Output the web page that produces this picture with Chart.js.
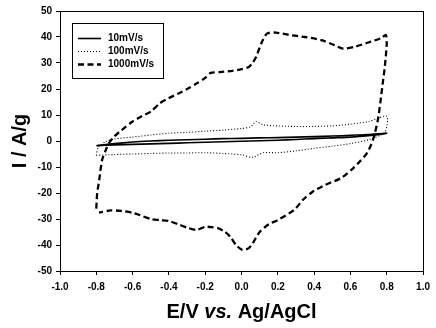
<!DOCTYPE html>
<html>
<head>
<meta charset="utf-8">
<script src="https://cdn.jsdelivr.net/npm/chart.js@4.4.1/dist/chart.umd.min.js"></script>
<style>
  html, body { margin: 0; padding: 0; background: #fff; }
  #wrap { width: 436px; height: 328px; position: relative; }
</style>
</head>
<body>
<div id="wrap"><canvas id="c" width="436" height="328"></canvas></div>
<script>
// ---- Data ----
const seriesLabels = ['10mV/s', '100mV/s', '1000mV/s'];

// 10 mV/s : potential (V) and current (A/g), full cycle
const e10 = [-0.8,-0.7,-0.6,-0.5,-0.4,-0.3,-0.2,-0.1,0.0,0.1,0.2,0.3,0.4,0.5,0.6,0.7,0.8,
             0.75,0.7,0.6,0.5,0.4,0.3,0.2,0.1,0.0,-0.1,-0.2,-0.3,-0.4,-0.5,-0.6,-0.7,-0.8];
const i10 = [-1.8,-1.0,-0.4,0.0,0.3,0.5,0.7,0.9,1.0,1.2,1.3,1.5,1.7,1.9,2.2,2.5,3.0,
             2.4,2.0,1.5,1.2,0.9,0.6,0.3,0.1,-0.1,-0.3,-0.5,-0.7,-0.9,-1.1,-1.3,-1.5,-1.8];

// 100 mV/s
const e100 = [-0.8,-0.79,-0.75,-0.7,-0.6,-0.5,-0.4,-0.3,-0.2,-0.1,0.0,0.05,0.08,0.12,0.2,0.3,0.4,0.5,0.6,0.7,0.8,
              0.79,0.7,0.6,0.5,0.4,0.3,0.2,0.12,0.06,0.0,-0.1,-0.2,-0.3,-0.4,-0.5,-0.6,-0.7,-0.8];
const i100 = [-5.5,-2.5,-0.3,0.8,1.5,2.3,3.0,3.3,3.8,4.2,4.8,5.5,7.5,6.2,5.8,5.6,5.6,5.8,6.5,7.5,9.5,
              3.5,0.5,-1.0,-2.0,-2.8,-3.8,-4.5,-4.5,-6.3,-5.3,-4.8,-4.5,-4.6,-4.6,-4.8,-5.0,-5.2,-5.5];

// 1000 mV/s
const e1000 = [-0.8,-0.795,-0.784,-0.768,-0.745,-0.73,-0.7,-0.66,-0.6,-0.55,-0.5,-0.45,-0.4,-0.35,-0.3,-0.25,-0.2,-0.17,-0.12,-0.05,0.0,0.04,0.06,0.08,0.11,0.14,0.19,0.26,0.35,0.44,0.51,0.56,0.62,0.69,0.77,0.795,
               0.8,0.79,0.778,0.765,0.751,0.724,0.692,0.65,0.616,0.55,0.46,0.39,0.34,0.29,0.2,0.15,0.1,0.06,0.04,0.005,-0.03,-0.06,-0.09,-0.13,-0.17,-0.2,-0.25,-0.3,-0.35,-0.4,-0.45,-0.5,-0.56,-0.6,-0.66,-0.72,-0.785];
const i1000 = [-26,-20,-15,-7.3,-3,-0.8,1.8,4.2,7.5,9.5,11.3,14.5,16.5,18.2,20,22,24.3,26.2,26.5,27,27.6,28.5,30,32.3,37.7,41.3,41.7,40.8,40,38.8,36.9,35.5,36.2,37.7,39.6,40.8,
               37.7,29,22.3,15,8.1,0.4,-4.6,-8,-10.4,-14.2,-16.9,-19.6,-22.5,-26.5,-30.4,-32,-35,-39.5,-41.2,-41.9,-40,-37,-35,-33.5,-33.1,-33,-34.2,-33.3,-32,-30.8,-30.4,-30,-28.5,-27.6,-26.9,-26.7,-27.5];

const xTickValues = [-1.0,-0.8,-0.6,-0.4,-0.2,0.0,0.2,0.4,0.6,0.8,1.0];
const xTickLabels = ['-1.0','-0.8','-0.6','-0.4','-0.2','0.0','0.2','0.4','0.6','0.8','1.0'];
const yTickValues = [-50,-40,-30,-20,-10,0,10,20,30,40,50];
const yTickLabels = ['-50','-40','-30','-20','-10','0','10','20','30','40','50'];

const yTitle = 'I / A/g';
const xTitleParts = ['E/V ', 'vs.', ' Ag/AgCl'];

// ---- Build chart ----
const FONT = '"Liberation Sans", Arial, Helvetica, sans-serif';
const pts = (xs, ys) => xs.map((x, k) => ({ x: x, y: ys[k] }));

const styles = [
  { borderWidth: 1.6, borderDash: [] },
  { borderWidth: 1.1, borderDash: [1, 2] },
  { borderWidth: 2.3, borderDash: [6, 3.5] }
];

const datasets = [
  { label: seriesLabels[0], data: pts(e10, i10) },
  { label: seriesLabels[1], data: pts(e100, i100) },
  { label: seriesLabels[2], data: pts(e1000, i1000) }
].map((d, k) => Object.assign(d, {
  showLine: true,
  pointRadius: 0,
  borderColor: '#000',
  backgroundColor: '#000',
  fill: false,
  tension: 0.25,
  borderWidth: styles[k].borderWidth,
  borderDash: styles[k].borderDash
}));

const framePlugin = {
  id: 'frameLegendTitle',
  afterDraw(chart) {
    const ctx = chart.ctx;
    const a = chart.chartArea;
    ctx.save();
    // frame
    ctx.strokeStyle = '#000';
    ctx.lineWidth = 1;
    ctx.setLineDash([]);
    ctx.strokeRect(Math.round(a.left) + 0.5, Math.round(a.top) + 0.5,
                   Math.round(a.right - a.left), Math.round(a.bottom - a.top));

    // legend box
    const lx = 72, ly = 23, lw = 91, lh = 55;
    ctx.fillStyle = '#fff';
    ctx.fillRect(lx, ly, lw, lh);
    ctx.strokeRect(lx + 0.5, ly + 0.5, lw, lh);
    const rows = [38, 51, 64];
    chart.data.datasets.forEach((ds, k) => {
      ctx.beginPath();
      ctx.lineWidth = ds.borderWidth;
      ctx.setLineDash(ds.borderDash);
      ctx.moveTo(78, rows[k] + 0.5);
      ctx.lineTo(101, rows[k] + 0.5);
      ctx.stroke();
      ctx.setLineDash([]);
      ctx.fillStyle = '#000';
      ctx.font = 'bold 10px ' + FONT;
      ctx.textAlign = 'left';
      ctx.textBaseline = 'middle';
      ctx.fillText(ds.label, 108, rows[k] + 0.5);
    });

    // x axis title with italic "vs."
    const fonts = ['bold 20px ' + FONT, 'italic bold 20px ' + FONT, 'bold 20px ' + FONT];
    let total = 0;
    const widths = xTitleParts.map((t, k) => { ctx.font = fonts[k]; const w = ctx.measureText(t).width; total += w; return w; });
    let x = (a.left + a.right) / 2 - total / 2;
    ctx.textAlign = 'left';
    ctx.textBaseline = 'middle';
    ctx.fillStyle = '#000';
    xTitleParts.forEach((t, k) => { ctx.font = fonts[k]; ctx.fillText(t, x, 312); x += widths[k]; });
    ctx.restore();
  }
};

new Chart(document.getElementById('c'), {
  type: 'scatter',
  data: { datasets: datasets },
  options: {
    responsive: false,
    animation: false,
    devicePixelRatio: 1,
    layout: { padding: { top: 11, right: 7, left: 0, bottom: 0 } },
    plugins: { legend: { display: false }, tooltip: { enabled: false } },
    scales: {
      x: {
        type: 'linear', min: -1, max: 1,
        afterFit(s) { s.height = 57; },
        afterBuildTicks(s) { s.ticks = xTickValues.map(v => ({ value: v })); },
        grid: { display: true, drawOnChartArea: false, drawTicks: true, tickLength: 4, color: '#000', lineWidth: 1 },
        border: { display: true, color: '#000', width: 1 },
        ticks: {
          color: '#000', padding: 6, maxRotation: 0, autoSkip: false,
          font: { family: FONT, size: 10, weight: 'bold' },
          callback: (v) => { const k = xTickValues.findIndex(t => Math.abs(t - v) < 1e-9); return k >= 0 ? xTickLabels[k] : ''; }
        },
        title: { display: false }
      },
      y: {
        type: 'linear', min: -50, max: 50,
        afterFit(s) { s.width = 60; },
        afterBuildTicks(s) { s.ticks = yTickValues.map(v => ({ value: v })); },
        grid: { display: true, drawOnChartArea: false, drawTicks: true, tickLength: 4, color: '#000', lineWidth: 1 },
        border: { display: true, color: '#000', width: 1 },
        ticks: {
          color: '#000', padding: 4, autoSkip: false,
          font: { family: FONT, size: 10, weight: 'bold' },
          callback: (v) => { const k = yTickValues.indexOf(v); return k >= 0 ? yTickLabels[k] : ''; }
        },
        title: {
          display: true, text: yTitle, color: '#000',
          font: { family: FONT, size: 20, weight: 'bold', lineHeight: 1.2 },
          padding: { top: 8, bottom: 0 }
        }
      }
    }
  },
  plugins: [framePlugin]
});
</script>
</body>
</html>
